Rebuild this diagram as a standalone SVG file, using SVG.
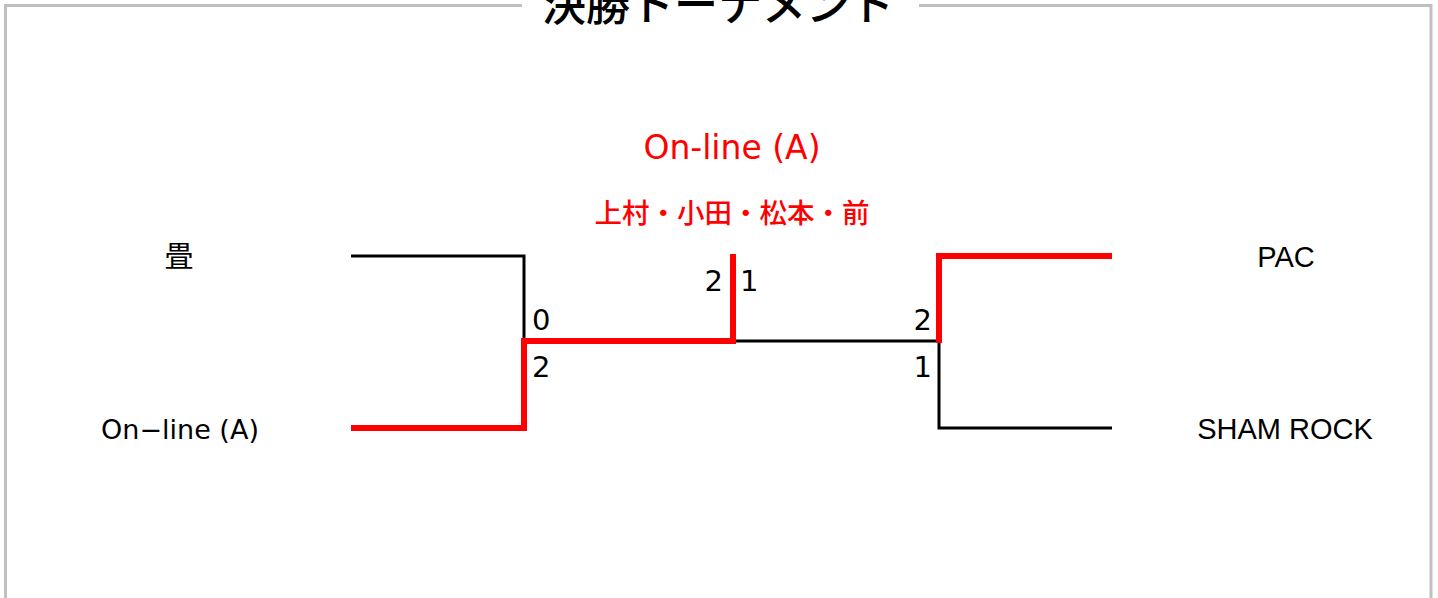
<svg xmlns="http://www.w3.org/2000/svg" width="1438" height="598" viewBox="0 0 1438 598">
<style>
.frame{fill:none;stroke:#c0c0c0;stroke-width:3}
.lose{fill:none;stroke:#000;stroke-width:3}
.win{fill:none;stroke:#ff0000;stroke-width:6}
.t{font-family:"DejaVu Sans","Noto Sans CJK JP",sans-serif;fill:#000}
.a{font-family:"Liberation Sans",Arial,sans-serif;fill:#000}
.j{font-family:"Noto Sans CJK JP",sans-serif}
.red{fill:#ff0000}
.sc{font-family:"DejaVu Sans",sans-serif;font-size:29px;fill:#000}
</style>
<rect width="1438" height="598" fill="#fff"/>
<path class="frame" d="M522 5.5 H5.5 V600 M919 5.5 H1431 V600"/>
<text class="j" x="718" y="21" font-size="44" font-weight="500" text-anchor="middle" fill="#000">決勝トーナメント</text>
<g id="connectors">
<path class="lose" d="M351 256 H524 V341"/>
<path class="lose" d="M736 341 H939"/>
<path class="lose" d="M939 341 V428 H1112"/>
<path class="win" d="M351 428 H524 V341 H733 V254"/>
<path class="win" d="M939 343 V256 H1112"/>
</g>
<g id="node-tatami"><text class="j" x="179" y="267" font-size="29" text-anchor="middle" fill="#000">畳</text></g>
<g id="node-online-a"><text class="t" x="180" y="439" font-size="27" text-anchor="middle">On−line (A)</text></g>
<g id="node-pac"><text class="a" x="1286" y="267" font-size="29" text-anchor="middle">PAC</text></g>
<g id="node-shamrock"><text class="a" x="1285" y="439" font-size="29" text-anchor="middle">SHAM ROCK</text></g>
<g id="node-champion">
<text class="t red" x="732" y="159" font-size="33" text-anchor="middle">On-line (A)</text>
<text class="j red" x="732" y="223" font-size="27.5" font-weight="500" text-anchor="middle">上村・小田・松本・前</text>
</g>
<g id="scores">
<text class="sc" x="532" y="330">0</text>
<text class="sc" x="532" y="377">2</text>
<text class="sc" x="723" y="291" text-anchor="end">2</text>
<text class="sc" x="740" y="291">1</text>
<text class="sc" x="932" y="330" text-anchor="end">2</text>
<text class="sc" x="932" y="377" text-anchor="end">1</text>
</g>
</svg>
